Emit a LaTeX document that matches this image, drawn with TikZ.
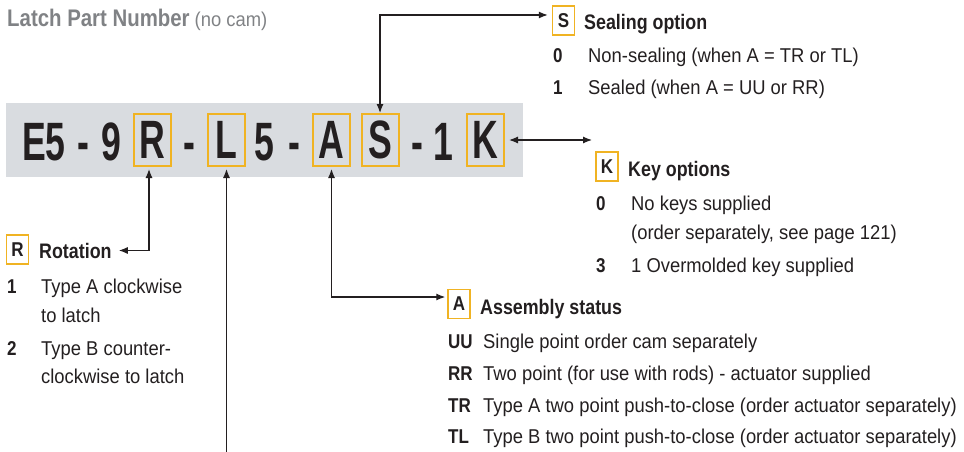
\documentclass[tikz,border=0pt]{standalone}
\usepackage{fontspec}
\setmainfont{Liberation Sans}
\newfontfamily\bodyfont{Liberation Sans}[FakeStretch=0.92]
\newfontfamily\headfont{Liberation Sans}[FakeStretch=0.85]
\newfontfamily\codefont{Liberation Sans}[FakeStretch=0.66]
\definecolor{latchink}{RGB}{35,31,32}
\definecolor{latchorange}{RGB}{240,179,35}
\definecolor{latchgray}{RGB}{217,220,224}
\definecolor{latchtitle}{RGB}{128,130,133}
\usetikzlibrary{
  arrows.meta,
  positioning
}

\begin{document}
\begin{tikzpicture}[
    x=1pt, y=-1pt,
    codebox/.style={
      draw=latchorange, line width=2pt, inner sep=0pt,
      minimum width=37pt, minimum height=52pt, text=latchink,
      font=\codefont\bfseries\fontsize{54}{60}\selectfont
    },
    codechar/.style={anchor=base, inner sep=0pt, text=latchink,
      font=\codefont\bfseries\fontsize{54}{60}\selectfont},
    keybox/.style={
      draw=latchorange, line width=1.5pt, inner sep=0pt,
      minimum width=22pt, minimum height=29pt, text=latchink,
      font=\headfont\bfseries\fontsize{20}{24}\selectfont
    },
    head/.style={anchor=base west, inner sep=0pt, text=latchink,
      font=\headfont\bfseries\fontsize{21}{25}\selectfont},
    num/.style={anchor=base west, inner sep=0pt, text=latchink,
      font=\headfont\bfseries\fontsize{20}{24}\selectfont},
    item/.style={anchor=base west, inner sep=0pt, text=latchink,
      font=\bodyfont\fontsize{20}{24}\selectfont},
    link/.style={line width=1.2pt, draw=latchink},
    >={Latex[length=9pt,width=7pt]}
  ]

  \useasboundingbox (0,0) rectangle (964,452);

  %% Title
  \node[anchor=base west, inner sep=0pt, text=latchtitle] (title) at (7,27)
    {{\headfont\bfseries\fontsize{24}{28}\selectfont Latch Part Number}\hspace{5pt}%
     {\bodyfont\fontsize{20}{24}\selectfont (no cam)}};

  %% Part number band
  \node[fill=latchgray, minimum width=517pt, minimum height=74pt, inner sep=0pt] (band) at (264.5,140) {};

  \node[codechar] (c1) at (44,160)    {E5};
  \node[codechar] (c2) at (83.5,160)  {-};
  \node[codechar] (c3) at (111.5,160) {9};
  \node[codebox]  (codeR) at (152,140)   {R};
  \node[codechar] (c4) at (189,160)   {-};
  \node[codebox]  (codeL) at (226.5,140) {L};
  \node[codechar] (c5) at (264,160)   {5};
  \node[codechar] (c6) at (294,160)   {-};
  \node[codebox]  (codeA) at (331.5,140) {A};
  \node[codebox]  (codeS) at (380,140)   {S};
  \node[codechar] (c7) at (417,160)   {-};
  \node[codechar] (c8) at (443,160)   {1};
  \node[codebox]  (codeK) at (485.5,140) {K};

  %% Sealing option
  \node[keybox] (keyS) at (563.5,20.5) {S};
  \node[head] (headS) at (584,30) {Sealing option};
  \node[num]  (s0) at (553,63) {0};
  \node[item] (s0t) at (588,63) {Non-sealing (when A = TR or TL)};
  \node[num]  (s1) at (553,95) {1};
  \node[item] (s1t) at (588,95) {Sealed (when A = UU or RR)};

  %% Key options
  \node[keybox] (keyK) at (607,166.5) {K};
  \node[head] (headK) at (628,176) {Key options};
  \node[num]  (k0) at (596,210) {0};
  \node[item] (k0t) at (631,210) {No keys supplied};
  \node[item] (k0u) at (631,239) {(order separately, see page 121)};
  \node[num]  (k3) at (596,272) {3};
  \node[item] (k3t) at (631,272) {1 Overmolded key supplied};

  %% Assembly status
  \node[keybox] (keyA) at (459,304) {A};
  \node[head] (headA) at (480,314) {Assembly status};
  \node[num]  (aUU) at (448,348) {UU};
  \node[item] (aUUt) at (483,348) {Single point order cam separately};
  \node[num]  (aRR) at (448,380) {RR};
  \node[item] (aRRt) at (483,380) {Two point (for use with rods) - actuator supplied};
  \node[num]  (aTR) at (448,412) {TR};
  \node[item] (aTRt) at (483,412) {Type A two point push-to-close (order actuator separately)};
  \node[num]  (aTL) at (448,443) {TL};
  \node[item] (aTLt) at (483,443) {Type B two point push-to-close (order actuator separately)};

  %% Rotation
  \node[keybox] (keyR) at (17.5,249.5) {R};
  \node[head] (headR) at (39,258) {Rotation};
  \node[num]  (r1) at (7,293) {1};
  \node[item] (r1t) at (41,293) {Type A clockwise};
  \node[item] (r1u) at (41,322) {to latch};
  \node[num]  (r2) at (7,355) {2};
  \node[item] (r2t) at (41,355) {Type B counter-};
  \node[item] (r2u) at (41,383) {clockwise to latch};

  %% Connectors
  \coordinate (kEnd) at (592,140);
  \coordinate (lEnd) at (226.5,452);

  \draw[link, <->, shorten >=4pt] (codeS.north) |- ([yshift=5.5pt]keyS.west);
  \draw[link, <->] ([xshift=4pt]codeK.east) -- (kEnd);
  \draw[link, <->, shorten <=2pt, shorten >=2pt] (codeA.south) |- ([yshift=7pt]keyA.west);
  \draw[link, <->, shorten <=2pt, shorten >=7pt] ([xshift=-3pt]codeR.south) |- (headR.east);
  \draw[link, ->, shorten >=2pt] (lEnd) -- (codeL.south);

\end{tikzpicture}
\end{document}
